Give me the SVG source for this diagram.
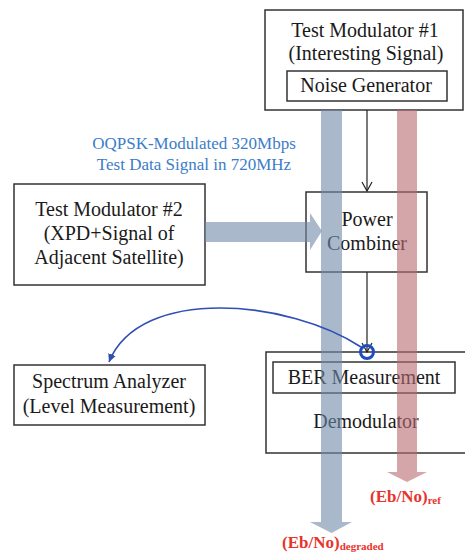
<svg xmlns="http://www.w3.org/2000/svg" width="465" height="553" viewBox="0 0 465 553">
<style>
.box{fill:#fff;stroke:#333;stroke-width:1.5}
.t{font-family:"Liberation Serif","Times New Roman",serif;font-size:20px;fill:#1a1a1a;text-anchor:middle}
.bl{font-family:"Liberation Serif","Times New Roman",serif;font-size:17px;fill:#3b7dc9;text-anchor:middle}
.rd{font-family:"Liberation Serif","Times New Roman",serif;font-size:17px;font-weight:bold;fill:#e8342c}
.bband{fill:#6f8aa8;opacity:0.6}
.rband{fill:#b76a6f;opacity:0.6}
</style>
<defs>
<marker id="vhead" markerWidth="12" markerHeight="12" refX="10" refY="6" orient="auto" markerUnits="userSpaceOnUse">
<path d="M1,1 L10,6 L1,11" fill="none" stroke="#222" stroke-width="1.2"/>
</marker>
<marker id="bhead" markerWidth="10" markerHeight="10" refX="8" refY="5" orient="auto" markerUnits="userSpaceOnUse">
<path d="M0,1 L8,5 L0,9 Z" fill="#2f4fb5"/>
</marker>
</defs>
<g id="mod1">
<rect class="box" x="265" y="10" width="198" height="100"/>
<text class="t" x="365" y="37">Test Modulator #1</text>
<text class="t" x="366" y="60">(Interesting Signal)</text>
<rect class="box" x="287" y="71" width="160" height="30"/>
<text class="t" x="366" y="92">Noise Generator</text>
</g>
<g id="label-blue">
<text class="bl" x="194" y="149">OQPSK-Modulated 320Mbps</text>
<text class="bl" x="194" y="170">Test Data Signal in 720MHz</text>
</g>
<g id="mod2">
<rect class="box" x="14" y="184" width="191" height="101"/>
<text class="t" x="109" y="216">Test Modulator #2</text>
<text class="t" x="109" y="240">(XPD+Signal of</text>
<text class="t" x="109" y="264">Adjacent Satellite)</text>
</g>
<g id="combiner">
<rect class="box" x="306" y="192" width="121" height="80"/>
<text class="t" x="367" y="226">Power</text>
<text class="t" x="367" y="250">Combiner</text>
</g>
<g id="spectrum">
<rect class="box" x="14" y="365" width="191" height="60"/>
<text class="t" x="109" y="388">Spectrum Analyzer</text>
<text class="t" x="109" y="413">(Level Measurement)</text>
</g>
<g id="demod">
<rect class="box" x="266" y="352" width="210" height="101"/>
<rect class="box" x="273" y="362" width="182" height="31"/>
<text class="t" x="364" y="384">BER Measurement</text>
<text class="t" x="366" y="428">Demodulator</text>
</g>
<g id="connectors">
<line x1="367" y1="110" x2="367" y2="191" stroke="#222" stroke-width="1.2" marker-end="url(#vhead)"/>
<line x1="367" y1="272" x2="367" y2="352" stroke="#222" stroke-width="1.2" marker-end="url(#vhead)"/>
<path class="bband" d="M205,222 L310,222 L310,213 L322,231 L310,250 L310,242 L205,242 Z"/>
<path class="bband" d="M321,110 L342,110 L342,522 L352,522 L331.5,533 L310,522 L321,522 Z"/>
<path class="rband" d="M397,110 L417,110 L417,472 L427,472 L407,482 L387,472 L397,472 Z"/>
<path d="M361,347 C290,300 140,285 109,362" fill="none" stroke="#2f4fb5" stroke-width="1.6" marker-end="url(#bhead)"/>
<circle cx="367" cy="352" r="6.5" fill="none" stroke="#1f4cc0" stroke-width="3"/>
</g>
<g id="results">
<text class="rd" x="370" y="502">(Eb/No)<tspan font-size="11" dy="2">ref</tspan></text>
<text class="rd" x="282" y="548">(Eb/No)<tspan font-size="11" dy="2">degraded</tspan></text>
</g>
</svg>
